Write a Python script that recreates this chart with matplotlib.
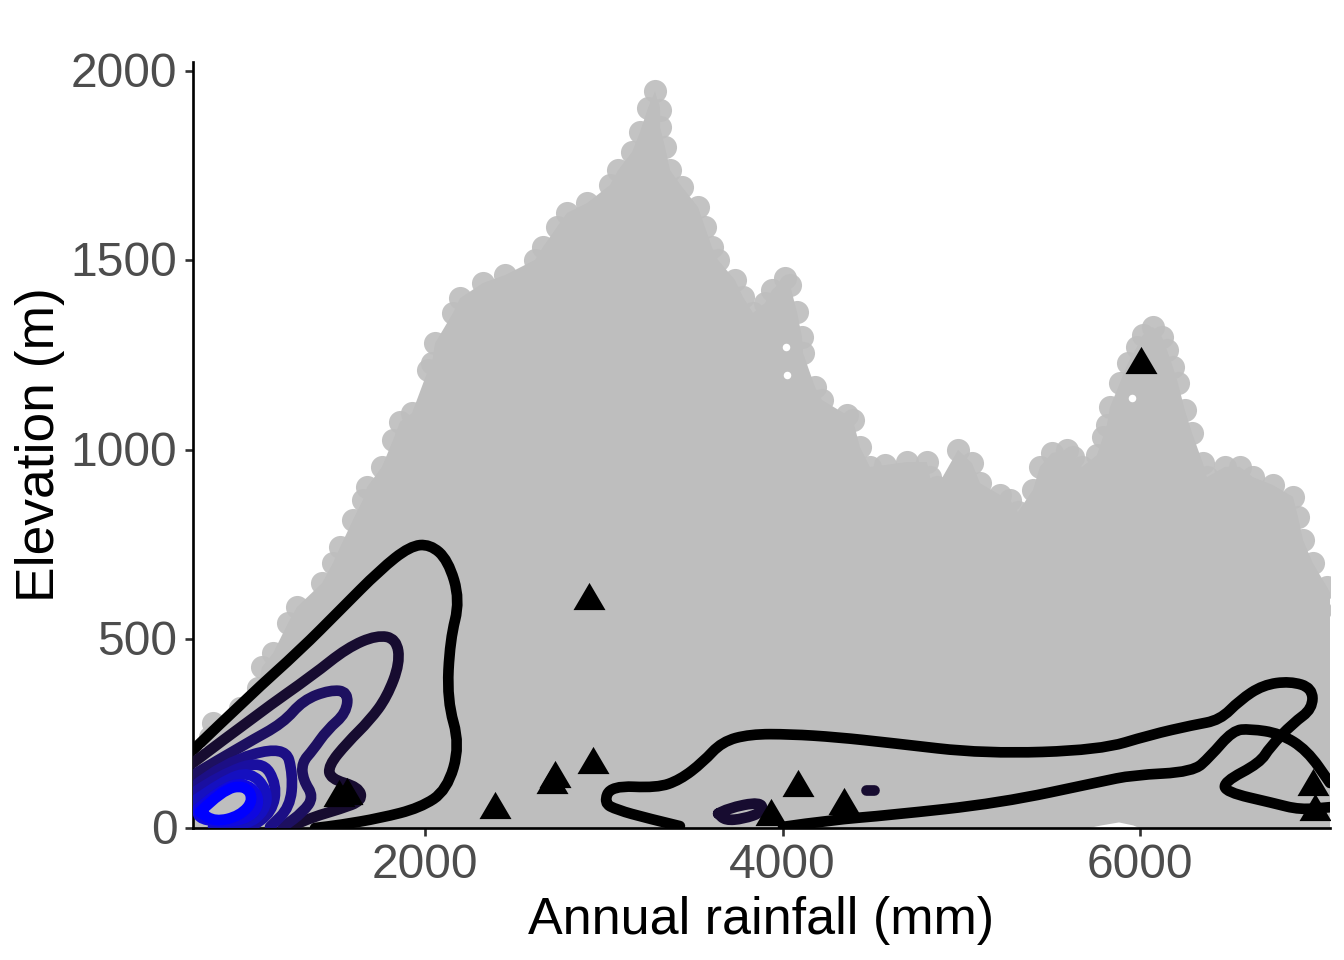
import matplotlib
matplotlib.use('Agg')
import matplotlib.pyplot as plt
from matplotlib.path import Path
from matplotlib.patches import PathPatch
from matplotlib.transforms import ScaledTranslation

plt.rcParams['font.family'] = ['Liberation Sans', 'DejaVu Sans']

# outermost points of the grey cloud, going along its top from left to right
cloud_rain = [702, 741, 797, 814, 965, 1066, 1088, 1150, 1234, 1284, 1424, 1485, 1525, 1597, 1653, 1676, 1759,
              1821, 1860, 1927, 2017, 2039, 2056, 2157, 2196, 2324, 2448, 2615, 2660, 2738, 2794, 2906, 3035,
              3080, 3158, 3203, 3247, 3287, 3315, 3315, 3343, 3371, 3438, 3527, 3566, 3605, 3639, 3734, 3779,
              3835, 3902, 3941, 4014, 4042, 4081, 4109, 4115, 4182, 4221, 4361, 4394, 4433, 4489, 4573, 4696,
              4808, 4825, 4864, 4982, 5060, 5105, 5217, 5273, 5317, 5401, 5440, 5507, 5591, 5625, 5675, 5759,
              5793, 5815, 5832, 5888, 5933, 5983, 6017, 6072, 6123, 6151, 6184, 6212, 6251, 6291, 6352, 6374,
              6475, 6559, 6632, 6744, 6856, 6884, 6912, 6967, 7046, 7119]
cloud_elev = [140, 180, 240, 277, 317, 370, 425, 462, 542, 584, 647, 700, 742, 814, 867, 901, 954,
              1025, 1073, 1096, 1210, 1229, 1281, 1361, 1400, 1440, 1461, 1501, 1535, 1588, 1625, 1651, 1699,
              1738, 1786, 1839, 1902, 1947, 1897, 1852, 1799, 1738, 1694, 1641, 1588, 1535, 1501, 1448, 1403,
              1361, 1387, 1421, 1453, 1435, 1363, 1297, 1255, 1165, 1131, 1091, 1078, 1007, 954, 959, 967,
              967, 927, 901, 999, 964, 911, 880, 867, 835, 893, 954, 991, 999, 980, 954, 985,
              1033, 1065, 1112, 1176, 1229, 1271, 1303, 1324, 1297, 1263, 1218, 1176, 1104, 1044, 964, 927,
              954, 954, 927, 906, 875, 822, 761, 700, 637, 576]
hole_rain = [5700, 5780, 5880, 5960, 6000]
hole_elev = [0, 8, 16, 8, 0]
gap_rain = [4020, 4025, 5955]
gap_elev = [1270, 1198, 1136]

# sites
site_rain = [1519, 1564, 2392, 2710, 2727, 2940, 2917, 6005, 4087, 4344, 3936, 6967, 6979]
site_elev = [92, 98, 61, 127, 143, 180, 613, 1236, 119, 71, 42, 122, 55]

# density contours, outer to inner
level1_x = [702, 1021, 1301, 1525, 1748, 1916, 2028, 2129, 2196, 2140, 2123, 2196, 2123, 1972, 1748, 1525, 1385]
level1_y = [206, 351, 470, 576, 682, 745, 750, 708, 602, 497, 338, 219, 100, 53, 26, 8, 0]
level2_x = [702, 1077, 1373, 1564, 1731, 1840, 1860, 1787, 1692, 1564, 1460, 1469, 1630, 1650, 1525, 1373, 1245]
level2_y = [172, 306, 404, 476, 510, 500, 436, 346, 285, 225, 165, 130, 108, 72, 50, 29, 3]
level3_x = [702, 1004, 1206, 1318, 1469, 1570, 1560, 1452, 1373, 1310, 1318, 1378, 1318, 1206]
level3_y = [140, 225, 277, 338, 365, 360, 304, 259, 206, 172, 127, 82, 42, 3]
level4_x = [702, 870, 1217, 1262, 1245, 1133]
level4_y = [108, 172, 219, 140, 55, 3]
level5_x = [702, 853, 1088, 1172, 1144, 1021]
level5_y = [92, 140, 180, 114, 42, 0]
level6_x = [702, 870, 1021, 1120, 1105, 1004, 814]
level6_y = [69, 125, 150, 100, 45, 8, 3]
level7_x = [725, 853, 982, 1075, 1049, 909, 740, 725]
level7_y = [48, 100, 122, 87, 35, 14, 22, 48]
level8_x = [741, 864, 993, 1043, 965, 825, 741]
level8_y = [42, 100, 114, 74, 32, 16, 42]

upper_x = [3426, 3242, 3074, 3000, 3040, 3298, 3426, 3555, 3661, 3818, 4042, 4305, 4601, 5133, 5776, 6056, 6296,
           6447, 6559, 6688, 6839, 6965, 6965, 6856, 6727, 6671, 6470, 6480, 6744, 6895, 7063]
upper_y = [5, 26, 48, 66, 112, 106, 127, 174, 228, 248, 248, 240, 225, 196, 206, 246, 272,
           285, 338, 378, 388, 370, 315, 277, 214, 172, 122, 95, 66, 48, 55]
lower_x = [4003, 4266, 4601, 5217, 5776, 5960, 6296, 6391, 6520, 6615, 6783, 6934, 7063]
lower_y = [3, 21, 34, 66, 122, 140, 148, 188, 258, 262, 250, 206, 119]
blob1_x = [3640, 3690, 3880, 3890, 3780, 3680, 3640]
blob1_y = [38, 52, 70, 42, 24, 20, 38]
blob2_x = [4466, 4511]
blob2_y = [100, 100]

x_ticks = [2000, 4000, 6000]
y_ticks = [0, 500, 1000, 1500, 2000]


def smooth_path(xs, ys):
    # quadratic curves between midpoints, so the contours stay round
    pts = list(zip(xs, ys))
    if len(pts) < 3:
        return Path(pts)
    verts = [pts[0]]
    codes = [Path.MOVETO]
    for a, b in zip(pts[1:-1], pts[2:]):
        verts += [a, ((a[0] + b[0]) / 2, (a[1] + b[1]) / 2)]
        codes += [Path.CURVE3, Path.CURVE3]
    verts.append(pts[-1])
    codes.append(Path.LINETO)
    return Path(verts, codes)


fig = plt.figure(figsize=(7, 5), dpi=192)
ax = fig.add_axes([193 / 1344, 132 / 960, 1137 / 1344, 766 / 960])

grey = '#bebebe'
ax.fill(cloud_rain + [cloud_rain[-1], cloud_rain[0]], cloud_elev + [0, 0], color=grey, lw=0, zorder=1)
ax.scatter(cloud_rain, cloud_elev, s=75, color=grey, alpha=0.92, lw=0, zorder=1)
ax.fill_between(hole_rain, 0, hole_elev, color='white', lw=0, zorder=2)
ax.scatter(gap_rain, gap_elev, s=8, color='white', lw=0, zorder=2)

contours = [
    (level1_x, level1_y, 'black'),
    (upper_x, upper_y, 'black'),
    (lower_x, lower_y, 'black'),
    (blob1_x, blob1_y, '#170c30'),
    (blob2_x, blob2_y, '#170c30'),
    (level2_x, level2_y, '#170c30'),
    (level3_x, level3_y, '#1d1060'),
    (level4_x, level4_y, '#1c0f85'),
    (level5_x, level5_y, '#1a0fa0'),
    (level6_x, level6_y, '#1510c0'),
    (level7_x, level7_y, '#0f08e0'),
    (level8_x, level8_y, '#0000ff'),
]
for xs, ys, col in contours:
    ax.add_patch(PathPatch(smooth_path(xs, ys), fill=False, edgecolor=col, lw=4,
                           joinstyle='round', capstyle='round', zorder=3))

triangle = [(-1, -0.85), (1, -0.85), (0, 0.85), (-1, -0.85)]
ax.scatter(site_rain, site_elev, marker=triangle, s=144, color='black', lw=0, zorder=4)

ax.set_xlim(702, 7063)
ax.set_ylim(0, 2024)
ax.set_xticks(x_ticks)
ax.set_yticks(y_ticks)
ax.spines['top'].set_visible(False)
ax.spines['right'].set_visible(False)
ax.spines['left'].set_linewidth(1)
ax.spines['bottom'].set_linewidth(1)
ax.tick_params(axis='both', length=3, width=1, color='#333333', labelcolor='#4d4d4d', labelsize=18, pad=2.5)
up = ScaledTranslation(-1 / 192, 1.5 / 192, fig.dpi_scale_trans)
for lab in ax.get_yticklabels():
    lab.set_transform(lab.get_transform() + up)
ax.set_xlabel('Annual rainfall (mm)', fontsize=19.5, labelpad=3)
ax.set_ylabel('Elevation (m)', fontsize=20, labelpad=2)

fig.savefig('out.png', dpi=192, facecolor='white')
